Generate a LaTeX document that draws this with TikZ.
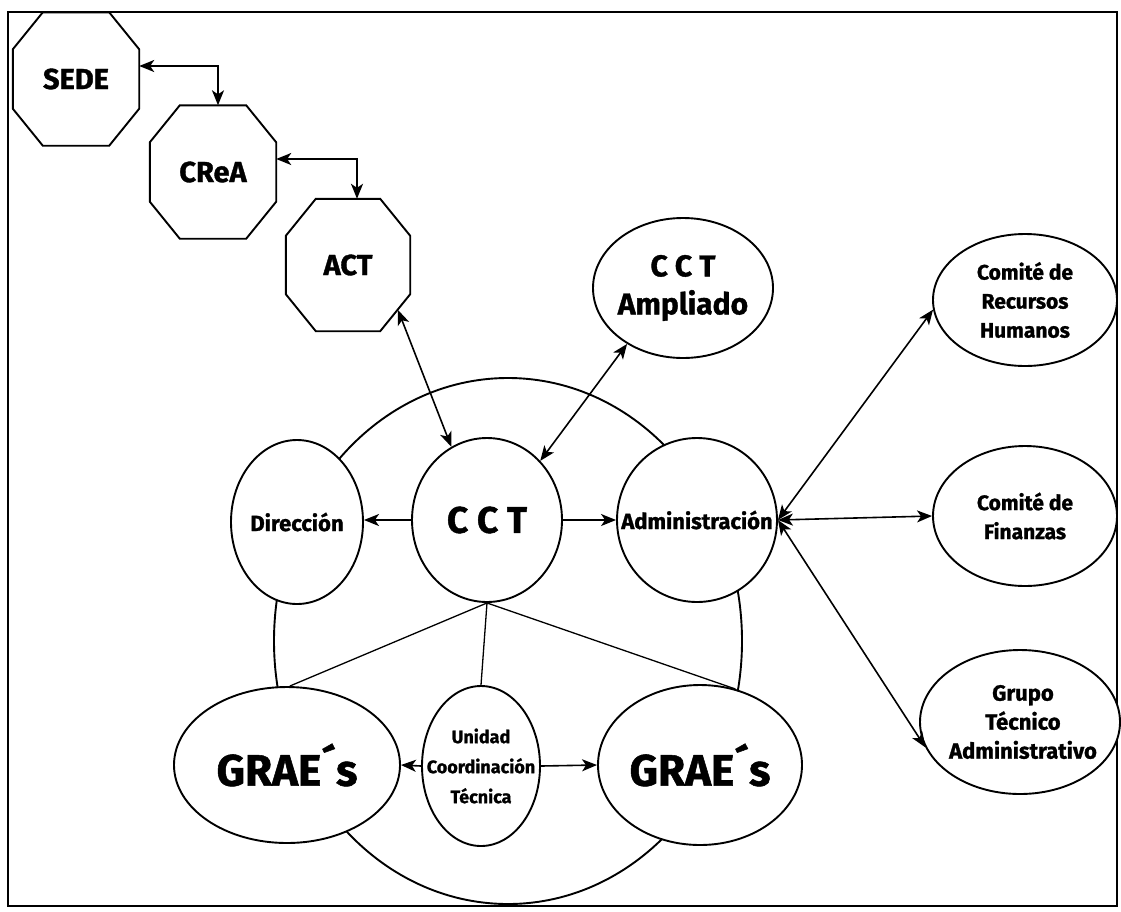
\documentclass[tikz,border=0pt]{standalone}
\usepackage{fontspec}
\setmainfont{Fira Sans}[BoldFeatures={FakeBold=1.2}]
\usetikzlibrary{arrows.meta,shapes.geometric,calc}
\newcommand\drawocta[1]{%
  \draw[shape line] ([xshift=30pt]#1.north west) -- ([xshift=-30pt]#1.north east)
    -- ([yshift=-37pt]#1.north east) -- ([yshift=37pt]#1.south east)
    -- ([xshift=-30pt]#1.south east) -- ([xshift=30pt]#1.south west)
    -- ([yshift=37pt]#1.south west) -- ([yshift=-37pt]#1.north west) -- cycle;}
\begin{document}
\begin{tikzpicture}[x=1pt,y=-1pt,
  >={Stealth[length=15pt,width=12pt,inset=4pt]},
  shape line/.style={line width=1.9pt},
  octbox/.style={rectangle,minimum width=126pt,minimum height=133pt,inner sep=0pt},
  oval/.style={ellipse,draw,shape line,fill=white,inner sep=0pt},
  conn/.style={line width=1.6pt},
  thin conn/.style={line width=1.3pt},
  lbl/.style 2 args={font=\bfseries\fontsize{#1}{#2}\selectfont,align=center,inner sep=0pt}]
\useasboundingbox (0,0) rectangle (1121,911);
\draw[line width=1.6pt] (8,12) rectangle (1117,906);
% big circle
\draw[shape line] (508,641) ellipse [x radius=234, y radius=263];
% octagons
\node[octbox] (sede) at (76,79) {};
\node[octbox] (crea) at (213,172) {};
\node[octbox,minimum width=124pt,minimum height=132pt] (act) at (348,265) {};
\drawocta{sede}\drawocta{crea}\drawocta{act}
\node[lbl={29}{34}] at (sede) {SEDE};
\node[lbl={29}{34}] at (crea) {CReA};
\node[lbl={29}{34}] at (act) {ACT};
% ovals
\node[oval,minimum width=180pt,minimum height=140pt] (amp) at (683,288) {};
\node[oval,minimum width=132pt,minimum height=164pt] (dir) at (297,522) {};
\node[oval,minimum width=150pt,minimum height=164pt] (cct) at (487,520) {};
\node[oval,minimum width=160pt,minimum height=164pt] (adm) at (697,520) {};
\node[oval,minimum width=184pt,minimum height=132pt] (rh) at (1025,300) {};
\node[oval,minimum width=184pt,minimum height=140pt] (fin) at (1025,516) {};
\node[oval,minimum width=200pt,minimum height=144pt] (gta) at (1020,722) {};
\node[oval,minimum width=226pt,minimum height=156pt] (graeL) at (287,765) {};
\node[oval,minimum width=118pt,minimum height=160pt] (uct) at (481,766) {};
\node[oval,minimum width=204pt,minimum height=160pt] (graeR) at (700,765) {};
% labels
\node[lbl={30}{38}] at (amp) {C C T\\Ampliado};
\node[lbl={22}{28}] at (dir) {Dirección};
\node[lbl={37}{40}] at (cct) {C C T};
\node[lbl={22}{28}] at (adm) {Administración};
\node[lbl={21}{29}] at (rh) {Comité de\\Recursos\\Humanos};
\node[lbl={21}{29}] at (fin) {Comité de\\Finanzas};
\node[lbl={22}{29}] at ([xshift=3pt]gta.center) {Grupo\\Técnico\\Administrativo};
\node[lbl={44}{46}] at (graeL) {GRAE´s};
\node[lbl={18}{30}] at (uct) {Unidad\\Coordinación\\Técnica};
\node[lbl={44}{46}] at (graeR) {GRAE´s};
% connectors
\draw[conn,<->] ([yshift=13pt]sede.east) -| ([xshift=5pt]crea.north);
\draw[conn,<->] ([yshift=13pt]crea.east) -| ([xshift=9pt]act.north);
\coordinate (actse) at (398,310);
\draw[conn,<->] (actse) -- (cct.116);
\draw[conn,<->] (amp.225) -- (cct.48);
\draw[conn,->] (cct.west) -- (cct.west -| dir.east);
\draw[conn,->] (cct.east) -- (cct.east -| adm.west);
\draw[conn,<->] (adm.east) -- (rh.186);
\draw[conn,<->] (adm.east) -- (fin.west);
\draw[conn,<->] (adm.east) -- (gta.195);
\draw[thin conn] (cct.south) -- (graeL.88);
\draw[thin conn] (cct.south) -- (uct.north);
\draw[thin conn] (cct.south) -- (graeR.65);
\draw[conn,->] (uct.west) -- (graeL.east);
\draw[conn,->] (uct.east) -- (graeR.west);
\end{tikzpicture}
\end{document}
